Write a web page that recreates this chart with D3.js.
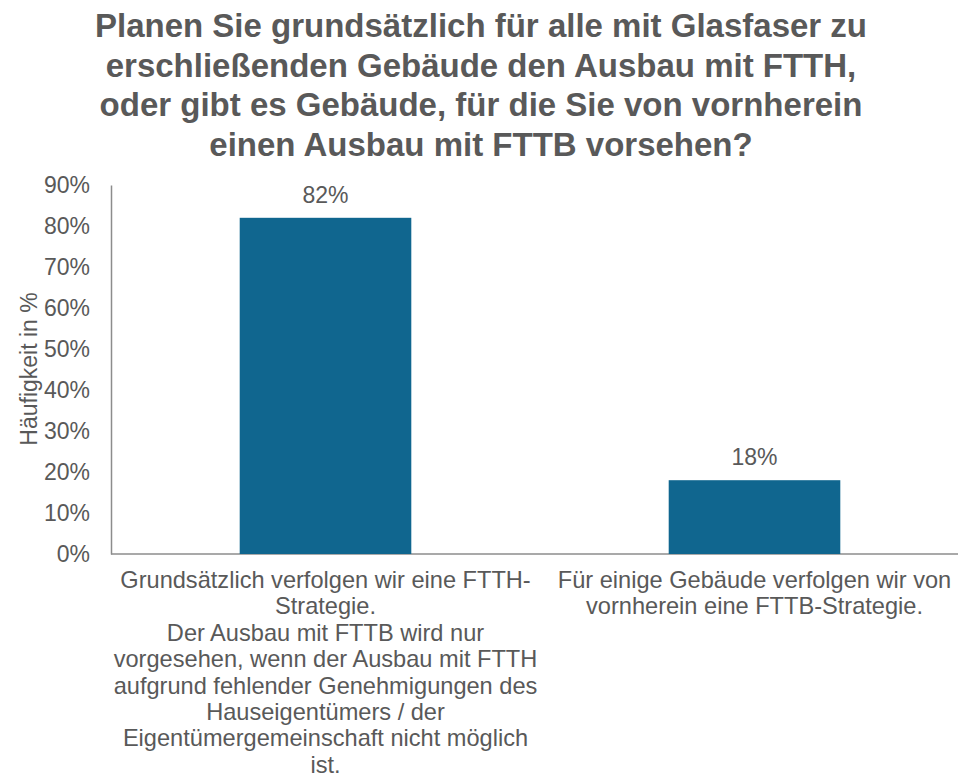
<!DOCTYPE html>
<html>
<head>
<meta charset="utf-8">
<script src="https://cdn.jsdelivr.net/npm/d3@7"></script>
<style>
  body { margin: 0; background: #fff; }
  text { font-family: "Liberation Sans", Arial, sans-serif; fill: #595959; }
</style>
</head>
<body>
<div id="chart"></div>
<script>
// data
const categories = ['FTTH', 'FTTB'];
const values = [82, 18];
const categoryLabels = [
  ['Grundsätzlich verfolgen wir eine FTTH-', 'Strategie.', 'Der Ausbau mit FTTB wird nur',
   'vorgesehen, wenn der Ausbau mit FTTH', 'aufgrund fehlender Genehmigungen des',
   'Hauseigentümers / der', 'Eigentümergemeinschaft nicht möglich', 'ist.'],
  ['Für einige Gebäude verfolgen wir von', 'vornherein eine FTTB-Strategie.']
];
const yTicks = [0, 10, 20, 30, 40, 50, 60, 70, 80, 90];
const titleLines = [
  'Planen Sie grundsätzlich für alle mit Glasfaser zu',
  'erschließenden Gebäude den Ausbau mit FTTH,',
  'oder gibt es Gebäude, für die Sie von vornherein',
  'einen Ausbau mit FTTB vorsehen?'
];
const yTitle = 'Häufigkeit in %';

var width = 958, height = 782;
var svg = d3.select('#chart').append('svg')
  .attr('width', width).attr('height', height);

// title
svg.append('text')
  .attr('text-anchor', 'middle')
  .style('font-size', '33px')
  .style('font-weight', 'bold')
  .selectAll('tspan')
  .data(titleLines)
  .enter().append('tspan')
  .attr('x', 481)
  .attr('y', (d, i) => 37 + i * 39.5)
  .text(d => d);

// scales
var x = d3.scaleBand().domain(categories).range([111, 969])
  .paddingInner(0.6).paddingOuter(0.3);
var y = d3.scaleLinear().domain([0, 90]).range([554, 185]);

// y axis
var yAxis = svg.append('g')
  .attr('transform', 'translate(111,0)')
  .call(d3.axisLeft(y).tickValues(yTicks).tickSize(0).tickPadding(21).tickFormat(d => d + '%'));
yAxis.select('.domain').attr('stroke', '#8c8c8c').attr('stroke-width', 1.5);
yAxis.selectAll('text').style('font-size', '23px').attr('fill', '#595959')
  .style('font-family', '"Liberation Sans", Arial, sans-serif');

// baseline
svg.append('line')
  .attr('x1', 111).attr('x2', 969)
  .attr('y1', y(0)).attr('y2', y(0))
  .attr('stroke', '#8c8c8c').attr('stroke-width', 1.5);

svg.append('text')
  .attr('transform', 'translate(37,369) rotate(-90)')
  .attr('text-anchor', 'middle')
  .style('font-size', '23px')
  .text(yTitle);

// bars
svg.selectAll('.bar')
  .data(values)
  .enter().append('rect')
  .attr('class', 'bar')
  .attr('x', (d, i) => x(categories[i]))
  .attr('width', x.bandwidth())
  .attr('y', d => y(d))
  .attr('height', d => y(0) - y(d))
  .attr('fill', '#10668f');

// value labels
svg.selectAll('.val')
  .data(values)
  .enter().append('text')
  .attr('class', 'val')
  .attr('text-anchor', 'middle')
  .attr('x', (d, i) => x(categories[i]) + x.bandwidth() / 2)
  .attr('y', d => y(d) - 15)
  .style('font-size', '23px')
  .text(d => d + '%');

// category labels
categoryLabels.forEach(function(lines, i) {
  var cx = x(categories[i]) + x.bandwidth() / 2;
  svg.append('text')
    .attr('text-anchor', 'middle')
    .style('font-size', '23.6px')
    .selectAll('tspan')
    .data(lines)
    .enter().append('tspan')
    .attr('x', cx)
    .attr('y', (d, j) => 588 + j * 26.4)
    .text(d => d);
});
</script>
</body>
</html>
